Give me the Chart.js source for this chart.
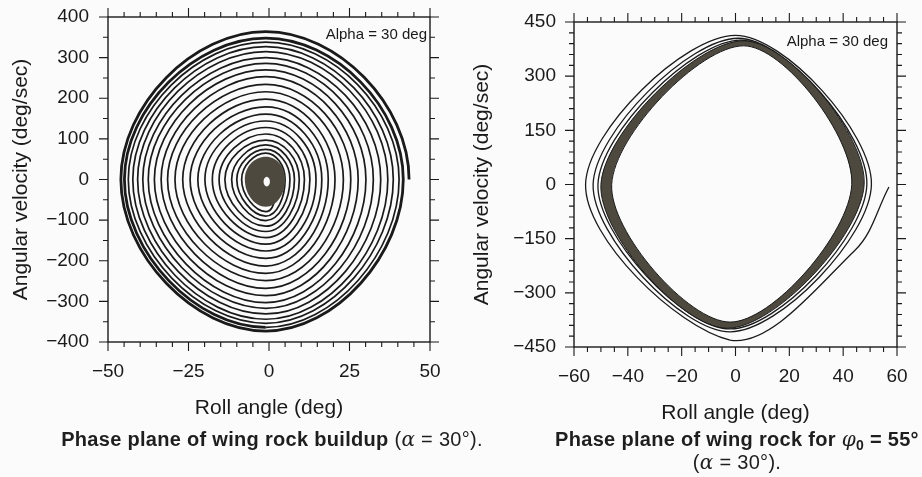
<!DOCTYPE html>
<html>
<head>
<meta charset="utf-8">
<title>Wing rock phase plane</title>
<script src="https://cdn.jsdelivr.net/npm/chart.js@4.4.1/dist/chart.umd.min.js"></script>
<style>
    html, body { margin: 0; padding: 0; background: #fbfbfb; }
    #page {
        position: relative; width: 922px; height: 477px; overflow: hidden;
        font-family: "Liberation Sans", Arial, sans-serif; color: #1e1e1e;
    }
    #leftChart { position: absolute; left: 0; top: 0; }
    #rightChart { position: absolute; left: 461px; top: 0; }
    .caption {
        position: absolute; font-weight: bold; font-size: 20px; line-height: 23px;
        letter-spacing: 0.3px; white-space: nowrap; text-align: center;
    }
    .caption .plain { font-weight: normal; }
    .greek { font-family: "DejaVu Serif", "Liberation Serif", serif; font-style: italic; font-weight: normal; }
    .caption sub { font-size: 0.7em; line-height: 0; vertical-align: -0.3em; }
    #capLeft { left: 0; top: 428px; width: 544px; }
    #capRight { left: 487px; top: 428px; width: 500px; }
</style>
</head>
<body>
<div id="page">
    <canvas id="leftChart" width="461" height="430"></canvas>
    <canvas id="rightChart" width="461" height="435"></canvas>
    <div class="caption" id="capLeft">Phase plane of wing rock buildup <span class="plain">(<span class="greek">α</span> = 30°).</span></div>
    <div class="caption" id="capRight">Phase plane of wing rock for <span class="greek">φ</span><sub>0</sub> = 55°<br><span class="plain">(<span class="greek">α</span> = 30°).</span></div>
</div>
<script>
// Левый график: нарастание колебаний (пересечения осей, изнутри наружу)
const buildupRightX = [5.0, 6.5, 7.9, 9.4, 11.0, 12.7, 14.6, 16.4, 18.4, 20.5, 23.1, 25.4, 27.7, 30.1, 32.4, 34.7, 36.9, 38.6, 40.4, 41.7, 43.5];
const buildupTopY = [65, 74, 85, 97, 112, 128, 144, 161, 179, 198, 216, 234, 253, 270, 286, 300, 315, 327, 338, 348, 364];
const buildupBottomY = [-79, -90, -101, -115, -128, -143, -159, -176, -194, -213, -231, -249, -268, -286, -303, -317, -331, -344, -354, -364, -373];
const buildupLeftX = [-8.5, -10.0, -11.6, -13.7, -15.5, -17.6, -19.9, -22.1, -24.5, -26.8, -29.2, -31.5, -33.5, -35.6, -37.5, -39.2, -40.8, -42.3, -43.7, -44.9, -46.0];
const buildupMidX = -1;
const buildupStart = [4, 0];
// продолжение последнего витка (не рисуется, задаёт касательную в конце)
const buildupNext = [-1, -380];

// Плотное ядро в центре и светлое пятно внутри (право, низ, лево, верх)
const coreX = [5, -1, -7.5, -1];
const coreY = [0, -67, 0, 56];
const holeX = [0.3, -0.7, -1.7, -0.7];
const holeY = [-5, -17, -5, 7];

// Правый график: предельный цикл, внешняя и внутренняя граница полосы (право, низ, лево, верх)
const cycleOuterX = [47.8, -3, -50, 3];
const cycleOuterY = [0, -398, 0, 398];
const cycleInnerX = [43.2, -2, -46, 3];
const cycleInnerY = [0, -381, 0, 384];

// Переходный процесс от φ0 = 55° до выхода на цикл
const transientX = [57, 44.4, -2, -55.7, 0, 50.5, -2, -52.9, 1, 48.8, -2, -51.1, 2, 47.5];
const transientY = [-7, -182, -431, 0, 413, 0, -408, 0, 405, 0, -400, 0, 400, 0];

// Подписи осей
const leftXTicks = [-50, -25, 0, 25, 50];
const leftYTicks = [-400, -300, -200, -100, 0, 100, 200, 300, 400];
const rightXTicks = [-60, -40, -20, 0, 20, 40, 60];
const rightYTicks = [-450, -300, -150, 0, 150, 300, 450];

const INK = '#1a1a1a';
const FILL_DARK = '#4d493f';
const PAPER = '#fbfbfb';
const HIDDEN = 'rgba(0,0,0,0)';
const CYCLE_TENSION = 0.35;

Chart.defaults.font.family = '"Liberation Sans", Arial, sans-serif';
Chart.defaults.color = INK;

// Рамка, засечки на всех четырёх сторонах и надпись в углу
const frameTicks = {
    id: 'frameTicks',
    afterDatasetsDraw(chart, args, opts) {
        const { ctx, chartArea: a, scales: { x, y } } = chart;
        ctx.save();
        ctx.strokeStyle = INK;
        ctx.lineWidth = 1.4;
        ctx.strokeRect(a.left, a.top, a.right - a.left, a.bottom - a.top);

        const drawX = (v, len) => {
            const px = x.getPixelForValue(v);
            ctx.moveTo(px, a.bottom); ctx.lineTo(px, a.bottom + len);
            ctx.moveTo(px, a.top); ctx.lineTo(px, a.top - len);
        };
        const drawY = (v, len) => {
            const py = y.getPixelForValue(v);
            ctx.moveTo(a.left, py); ctx.lineTo(a.left - len, py);
            ctx.moveTo(a.right, py); ctx.lineTo(a.right + len, py);
        };

        ctx.lineWidth = 1.1;
        ctx.beginPath();
        for (let v = x.min; v <= x.max + 1e-9; v += opts.xMinor) drawX(v, 5);
        for (let v = y.min; v <= y.max + 1e-9; v += opts.yMinor) drawY(v, 5);
        x.ticks.forEach(t => drawX(t.value, 9));
        y.ticks.forEach(t => drawY(t.value, 9));
        ctx.stroke();

        ctx.fillStyle = INK;
        ctx.font = '15px "Liberation Sans", Arial, sans-serif';
        ctx.textAlign = 'right';
        ctx.textBaseline = 'middle';
        ctx.fillText(opts.note, a.right + opts.noteDx, a.top + opts.noteDy);
        ctx.restore();
    }
};

function formatTick(value) {
    return value < 0 ? '\u2212' + Math.abs(value) : String(value);
}

// Замкнутый контур: последняя точка, все точки, затем первые две —
// чтобы сплайн сомкнулся гладко (крайние отрезки не рисуются)
function closedLoop(xs, ys) {
    const n = xs.length;
    const order = [n - 1];
    for (let i = 0; i < n; i++) order.push(i);
    order.push(0, 1);
    return order.map(i => ({ x: xs[i], y: ys[i] }));
}

function loopOutline(label, pts, width) {
    const lastSeg = pts.length - 2;
    return {
        label: label, data: pts, showLine: true, tension: CYCLE_TENSION, fill: false,
        borderColor: INK, borderWidth: width,
        segment: { borderColor: c => (c.p0DataIndex === 0 || c.p0DataIndex === lastSeg) ? HIDDEN : INK }
    };
}

// Спираль по часовой стрелке: низ, лево, верх, право для каждого витка
function buildupPath() {
    const pts = [{ x: buildupStart[0], y: buildupStart[1] }];
    for (let i = 0; i < buildupRightX.length; i++) {
        pts.push({ x: buildupMidX, y: buildupBottomY[i] });
        pts.push({ x: buildupLeftX[i], y: 0 });
        pts.push({ x: buildupMidX, y: buildupTopY[i] });
        pts.push({ x: buildupRightX[i], y: 0 });
    }
    pts.push({ x: buildupNext[0], y: buildupNext[1] });
    return pts;
}

function scalesFor(xMin, xMax, xTicks, yMin, yMax, yTicks, yWidth, yPad) {
    const titleFont = { size: 21 };
    return {
        x: {
            type: 'linear', min: xMin, max: xMax,
            afterBuildTicks: s => { s.ticks = xTicks.map(v => ({ value: v })); },
            afterFit: s => { s.height = 88; s.paddingLeft = 0; s.paddingRight = 0; },
            grid: { display: false, drawTicks: false },
            border: { display: false },
            ticks: { padding: 18, font: { size: 19 }, color: INK, maxRotation: 0, autoSkip: false, callback: formatTick },
            title: { display: true, text: 'Roll angle (deg)', font: titleFont, color: INK, padding: { top: 0, bottom: 9 } }
        },
        y: {
            type: 'linear', min: yMin, max: yMax,
            afterBuildTicks: s => { s.ticks = yTicks.map(v => ({ value: v })); },
            afterFit: s => { s.width = yWidth; s.paddingTop = 0; s.paddingBottom = 0; },
            grid: { display: false, drawTicks: false },
            border: { display: false },
            ticks: { padding: yPad, font: { size: 19 }, color: INK, autoSkip: false, callback: formatTick },
            title: { display: true, text: 'Angular velocity (deg/sec)', font: titleFont, color: INK, padding: { top: 9, bottom: 0 } }
        }
    };
}

function baseOptions(padding, frameOpts, scales) {
    return {
        responsive: false,
        animation: false,
        layout: { padding: padding },
        elements: { point: { radius: 0, hoverRadius: 0 } },
        plugins: {
            legend: { display: false },
            tooltip: { enabled: false },
            frameTicks: frameOpts
        },
        scales: scales
    };
}

function renderBuildup() {
    const spiral = buildupPath();
    const last = spiral.length - 2;
    new Chart(document.getElementById('leftChart'), {
        type: 'scatter',
        data: {
            datasets: [
                {
                    label: 'hole', data: closedLoop(holeX, holeY), showLine: true,
                    tension: 0.55, borderWidth: 0, fill: 'shape', backgroundColor: PAPER
                },
                {
                    label: 'core', data: closedLoop(coreX, coreY), showLine: true,
                    tension: 0.55, borderWidth: 0, fill: 'shape', backgroundColor: FILL_DARK
                },
                {
                    label: 'buildup', data: spiral, showLine: true, tension: 0.5,
                    borderColor: INK, borderWidth: 1.7, fill: false,
                    segment: {
                        borderWidth: c => c.p0DataIndex >= last - 7 ? 2.8 : 1.7,
                        borderColor: c => c.p0DataIndex >= last ? HIDDEN : INK
                    }
                }
            ]
        },
        options: baseOptions(
            { top: 17, right: 31, left: 0, bottom: 0 },
            { xMinor: 5, yMinor: 50, note: 'Alpha = 30 deg', noteDx: -3, noteDy: 18 },
            scalesFor(-50, 50, leftXTicks, -400, 400, leftYTicks, 108, 19)
        ),
        plugins: [frameTicks]
    });
}

function renderLimitCycle() {
    const outer = closedLoop(cycleOuterX, cycleOuterY);
    const inner = closedLoop(cycleInnerX, cycleInnerY);
    const transient = transientX.map((x, i) => ({ x: x, y: transientY[i] }));
    new Chart(document.getElementById('rightChart'), {
        type: 'scatter',
        data: {
            datasets: [
                loopOutline('outer edge', outer, 1),
                loopOutline('inner edge', inner, 1),
                {
                    label: 'inner', data: inner, showLine: true,
                    tension: CYCLE_TENSION, borderWidth: 0, fill: 'shape', backgroundColor: PAPER
                },
                {
                    label: 'outer', data: outer, showLine: true,
                    tension: CYCLE_TENSION, borderWidth: 0, fill: 'shape', backgroundColor: FILL_DARK
                },
                {
                    label: 'transient', data: transient, showLine: true, tension: CYCLE_TENSION,
                    borderColor: INK, borderWidth: 1.3, fill: false
                }
            ]
        },
        options: baseOptions(
            { top: 22, right: 25, left: 0, bottom: 0 },
            { xMinor: 5, yMinor: 30, note: 'Alpha = 30 deg', noteDx: -9, noteDy: 20 },
            scalesFor(-60, 60, rightXTicks, -450, 450, rightYTicks, 113, 18)
        ),
        plugins: [frameTicks]
    });
}

document.addEventListener('DOMContentLoaded', () => {
    renderBuildup();
    renderLimitCycle();
});
</script>
</body>
</html>
